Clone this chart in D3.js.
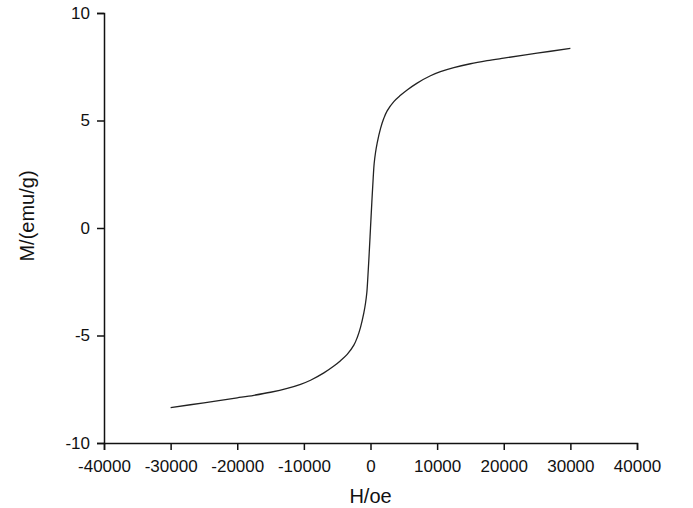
<!DOCTYPE html>
<html>
<head>
<meta charset="utf-8">
<script src="https://cdn.jsdelivr.net/npm/d3@7"></script>
<style>
  body { margin: 0; background: #fff; }
  text { font-family: "Liberation Sans", Arial, sans-serif; fill: #111; }
</style>
</head>
<body>
<svg id="chart" width="693" height="508"></svg>
<script>
// positive branch of the magnetization curve, mirrored for negative field
const fieldPos = [0, 200, 400, 550, 750, 1000, 1500, 2000, 2500, 3500, 4500, 5500, 7000, 9000, 10500, 12500, 15000, 17500, 20000, 25000, 30000]
const momentPos = [0, 1.2, 2.3, 3.0, 3.5, 3.95, 4.62, 5.1, 5.45, 5.88, 6.17, 6.42, 6.74, 7.08, 7.27, 7.46, 7.64, 7.78, 7.9, 8.13, 8.35]
const xTicks = [-40000, -30000, -20000, -10000, 0, 10000, 20000, 30000, 40000]
const yTicks = [-10, -5, 0, 5, 10]

const width = 693, height = 508
const margin = { left: 104, right: 56, top: 13, bottom: 65 }

const svg = d3.select('#chart')

const x = d3.scaleLinear().domain([-40000, 40000]).range([margin.left, width - margin.right])
const y = d3.scaleLinear().domain([-10, 10]).range([height - margin.bottom, margin.top])

let data = []
for (let i = fieldPos.length - 1; i > 0; i -= 1) {
    data.push({ h: -fieldPos[i], m: -momentPos[i] })
}
for (let i = 0; i < fieldPos.length; i += 1) {
    data.push({ h: fieldPos[i], m: momentPos[i] })
}

// plain hyphen minus like the original
const fmt = d => String(d)

// x axis
const xAxis = svg.append('g')
    .attr('transform', 'translate(0,' + y(-10) + ')')
xAxis.call(d3.axisBottom(x).tickValues(d3.range(-35000, 40000, 10000)).tickSize(4).tickFormat(''))
xAxis.call(d3.axisBottom(x).tickValues(xTicks).tickSize(7).tickPadding(10).tickFormat(fmt))
xAxis.selectAll('text').style('font-size', '17px')

// y axis
const yAxis = svg.append('g')
    .attr('transform', 'translate(' + x(-40000) + ',0)')
yAxis.call(d3.axisLeft(y).tickValues([-7.5, -2.5, 2.5, 7.5]).tickSize(4).tickFormat(''))
yAxis.call(d3.axisLeft(y).tickValues(yTicks).tickSize(7).tickPadding(7).tickFormat(fmt))
yAxis.selectAll('text').style('font-size', '17px')

svg.selectAll('.domain, .tick line')
    .style('stroke', '#111')
    .style('stroke-width', 1.5)

// curve
svg.append('path')
    .datum(data)
    .attr('d', d3.line().x(d => x(d.h)).y(d => y(d.m)).curve(d3.curveCatmullRom.alpha(0.5)))
    .style('fill', 'none')
    .style('stroke', '#222')
    .style('stroke-width', 1.3)

// titles
svg.append('text')
    .attr('x', x(0))
    .attr('y', 503)
    .attr('text-anchor', 'middle')
    .style('font-size', '20px')
    .text('H/oe')

svg.append('text')
    .attr('transform', 'translate(34,216) rotate(-90)')
    .attr('text-anchor', 'middle')
    .style('font-size', '20px')
    .text('M/(emu/g)')
</script>
</body>
</html>
